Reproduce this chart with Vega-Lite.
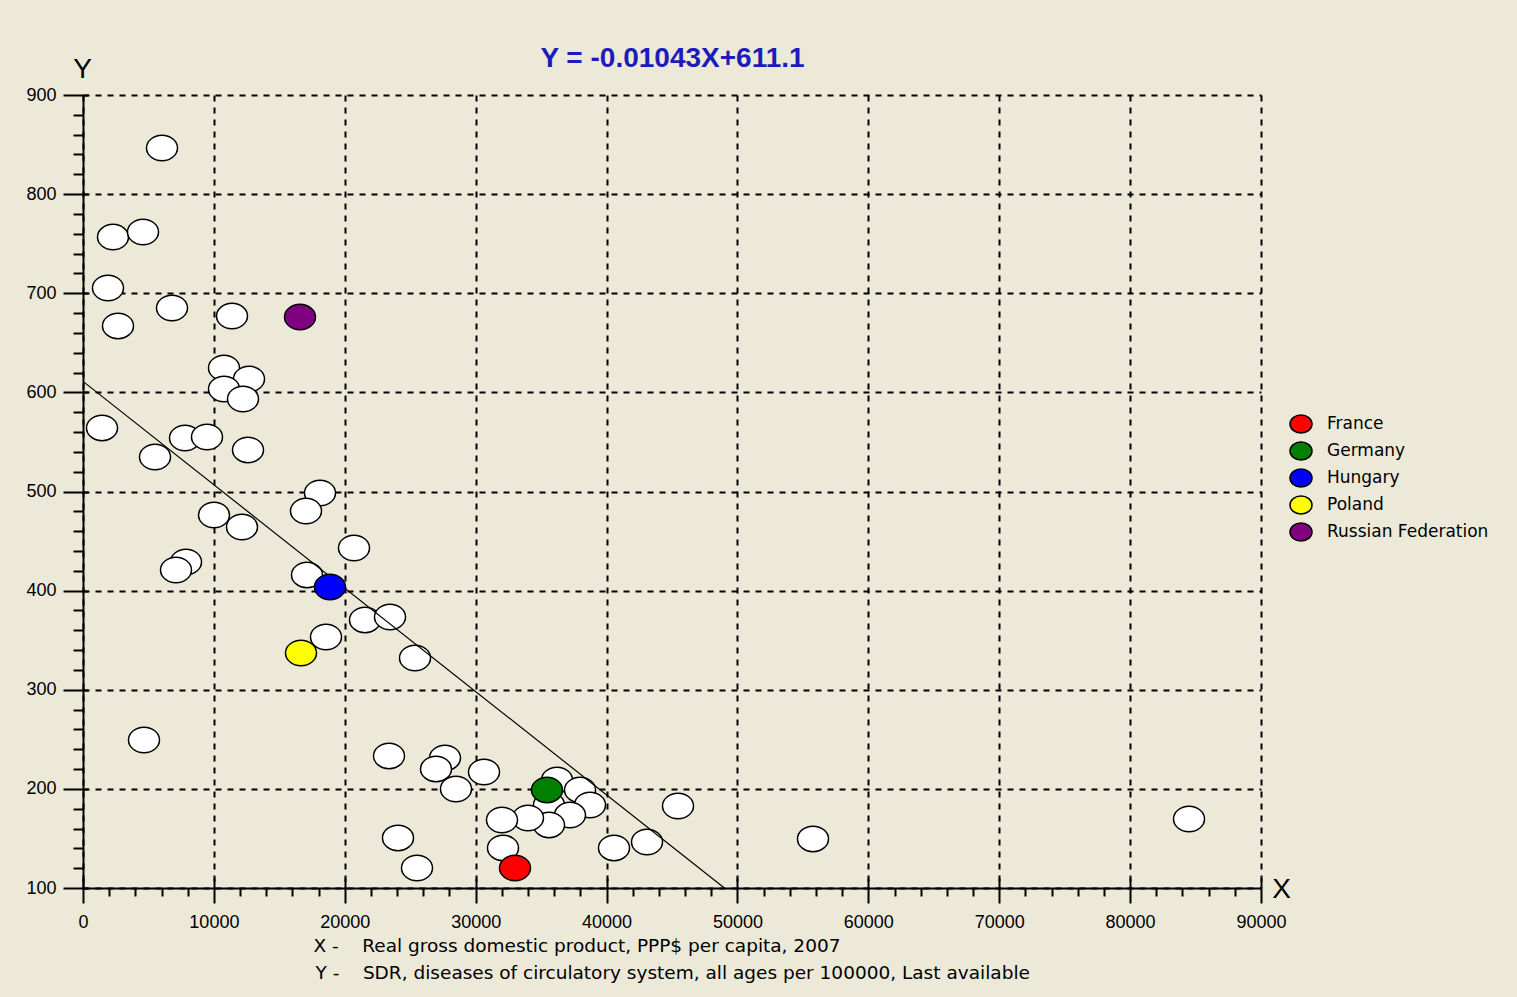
{
  "$schema": "https://vega.github.io/schema/vega-lite/v6.json",
  "width": 1178,
  "height": 793,
  "autosize": {"type": "none"},
  "padding": {"left": 83, "top": 95, "right": 256, "bottom": 109},
  "background": "#ECE9D8",
  "config": {
    "view": {"stroke": null},
    "axis": {
      "labelFont": "Liberation Sans",
      "labelFontSize": 18,
      "labelColor": "black",
      "tickColor": "black",
      "tickWidth": 2,
      "domainColor": "black",
      "domainWidth": 2,
      "gridColor": "black",
      "gridOpacity": 1,
      "gridWidth": 2,
      "gridDash": [6, 6],
      "labelFlush": false,
      "labelOverlap": false,
      "titleColor": "black",
      "titleFontWeight": "normal"
    }
  },
  "datasets": {
    "countries": [
      {"gdp": 6036, "sdr": 846.5, "country": null},
      {"gdp": 2292, "sdr": 756.7, "country": null},
      {"gdp": 4584, "sdr": 761.8, "country": null},
      {"gdp": 1910, "sdr": 705.3, "country": null},
      {"gdp": 2674, "sdr": 667.0, "country": null},
      {"gdp": 6800, "sdr": 685.1, "country": null},
      {"gdp": 11384, "sdr": 677.0, "country": null},
      {"gdp": 10773, "sdr": 624.6, "country": null},
      {"gdp": 12683, "sdr": 613.5, "country": null},
      {"gdp": 10773, "sdr": 603.4, "country": null},
      {"gdp": 12224, "sdr": 593.3, "country": null},
      {"gdp": 1452, "sdr": 564.1, "country": null},
      {"gdp": 5501, "sdr": 534.8, "country": null},
      {"gdp": 7793, "sdr": 554.0, "country": null},
      {"gdp": 9474, "sdr": 555.0, "country": null},
      {"gdp": 12606, "sdr": 541.9, "country": null},
      {"gdp": 18107, "sdr": 498.5, "country": null},
      {"gdp": 17037, "sdr": 480.3, "country": null},
      {"gdp": 10009, "sdr": 476.3, "country": null},
      {"gdp": 12148, "sdr": 464.2, "country": null},
      {"gdp": 20705, "sdr": 443.0, "country": null},
      {"gdp": 7869, "sdr": 428.9, "country": null},
      {"gdp": 7105, "sdr": 420.8, "country": null},
      {"gdp": 17114, "sdr": 415.8, "country": null},
      {"gdp": 21545, "sdr": 370.4, "country": null},
      {"gdp": 23455, "sdr": 373.4, "country": null},
      {"gdp": 18565, "sdr": 353.2, "country": null},
      {"gdp": 25365, "sdr": 332.0, "country": null},
      {"gdp": 4660, "sdr": 249.3, "country": null},
      {"gdp": 23379, "sdr": 233.2, "country": null},
      {"gdp": 27657, "sdr": 231.2, "country": null},
      {"gdp": 26970, "sdr": 220.1, "country": null},
      {"gdp": 30637, "sdr": 217.0, "country": null},
      {"gdp": 28497, "sdr": 199.9, "country": null},
      {"gdp": 36214, "sdr": 209.0, "country": null},
      {"gdp": 37971, "sdr": 198.9, "country": null},
      {"gdp": 38735, "sdr": 183.7, "country": null},
      {"gdp": 35603, "sdr": 183.7, "country": null},
      {"gdp": 37207, "sdr": 173.6, "country": null},
      {"gdp": 35603, "sdr": 163.6, "country": null},
      {"gdp": 33998, "sdr": 170.6, "country": null},
      {"gdp": 32012, "sdr": 168.6, "country": null},
      {"gdp": 32088, "sdr": 140.4, "country": null},
      {"gdp": 24066, "sdr": 150.5, "country": null},
      {"gdp": 25518, "sdr": 120.2, "country": null},
      {"gdp": 40569, "sdr": 140.4, "country": null},
      {"gdp": 43090, "sdr": 146.4, "country": null},
      {"gdp": 45459, "sdr": 182.7, "country": null},
      {"gdp": 55773, "sdr": 149.5, "country": null},
      {"gdp": 84500, "sdr": 169.6, "country": null},
      {"gdp": 33005, "sdr": 120.2, "country": "France"},
      {"gdp": 35450, "sdr": 198.9, "country": "Germany"},
      {"gdp": 18871, "sdr": 403.7, "country": "Hungary"},
      {"gdp": 16655, "sdr": 337.1, "country": "Poland"},
      {"gdp": 16579, "sdr": 676.0, "country": "Russian Federation"}
    ],
    "fit": [
      {"gdp": 0, "sdr": 611.1},
      {"gdp": 49003, "sdr": 100}
    ]
  },
  "layer": [
    {
      "data": {"name": "countries"},
      "transform": [{"filter": "datum.country == null"}],
      "mark": {
        "type": "point",
        "shape": "M -1 0 A 1 0.82 0 1 1 1 0 A 1 0.82 0 1 1 -1 0 Z",
        "size": 961,
        "filled": true,
        "fill": "white",
        "stroke": "black",
        "strokeWidth": 1.5,
        "opacity": 1
      },
      "encoding": {
        "x": {
          "field": "gdp",
          "type": "quantitative",
          "scale": {"domain": [0, 90000], "nice": false, "zero": false},
          "axis": {
            "orient": "bottom",
            "values": [0, 10000, 20000, 30000, 40000, 50000, 60000, 70000, 80000, 90000],
            "format": "d",
            "tickSize": 15,
            "labelPadding": 10,
            "grid": true,
            "title": "X",
            "titleFont": "Liberation Sans",
            "titleFontSize": 28,
            "titleX": 1198,
            "titleY": 9,
            "titleAlign": "center",
            "titleBaseline": "alphabetic"
          }
        },
        "y": {
          "field": "sdr",
          "type": "quantitative",
          "scale": {"domain": [100, 900], "nice": false, "zero": false},
          "axis": {
            "orient": "left",
            "values": [100, 200, 300, 400, 500, 600, 700, 800, 900],
            "format": "d",
            "tickSize": 20,
            "labelPadding": 7,
            "grid": true,
            "title": "Y",
            "titleFont": "Liberation Sans",
            "titleFontSize": 28,
            "titleAngle": 0,
            "titleX": -1,
            "titleY": -18,
            "titleAlign": "center",
            "titleBaseline": "alphabetic"
          }
        }
      }
    },
    {
      "data": {"name": "fit"},
      "mark": {"type": "line", "color": "black", "strokeWidth": 1.2},
      "encoding": {
        "x": {
          "field": "gdp",
          "type": "quantitative",
          "axis": {
            "orient": "bottom",
            "values": [2000, 4000, 6000, 8000, 12000, 14000, 16000, 18000, 22000, 24000, 26000, 28000, 32000, 34000, 36000, 38000, 42000, 44000, 46000, 48000, 52000, 54000, 56000, 58000, 62000, 64000, 66000, 68000, 72000, 74000, 76000, 78000, 82000, 84000, 86000, 88000],
            "tickSize": 8,
            "labels": false,
            "domain": false,
            "grid": false,
            "title": "X -\u00a0\u00a0\u00a0\u00a0Real gross domestic product, PPP$ per capita, 2007",
            "titleFont": "DejaVu Sans",
            "titleFontSize": 18.5,
            "titleX": 230,
            "titleY": 63,
            "titleAlign": "left",
            "titleBaseline": "alphabetic"
          }
        },
        "y": {
          "field": "sdr",
          "type": "quantitative",
          "axis": {
            "orient": "left",
            "values": [120, 140, 160, 180, 220, 240, 260, 280, 320, 340, 360, 380, 420, 440, 460, 480, 520, 540, 560, 580, 620, 640, 660, 680, 720, 740, 760, 780, 820, 840, 860, 880],
            "tickSize": 10,
            "labels": false,
            "domain": false,
            "grid": false,
            "title": "Y = -0.01043X+611.1",
            "titleFont": "Liberation Sans",
            "titleFontSize": 28,
            "titleFontWeight": "bold",
            "titleColor": "#1c1cb8",
            "titleAngle": 0,
            "titleX": 589,
            "titleY": -29,
            "titleAlign": "center",
            "titleBaseline": "alphabetic"
          }
        }
      }
    },
    {
      "data": {"name": "countries"},
      "transform": [{"filter": "datum.country != null"}],
      "mark": {
        "type": "point",
        "shape": "M -1 0 A 1 0.82 0 1 1 1 0 A 1 0.82 0 1 1 -1 0 Z",
        "size": 961,
        "filled": true,
        "stroke": "black",
        "strokeWidth": 1.5,
        "opacity": 1
      },
      "encoding": {
        "x": {
          "field": "gdp",
          "type": "quantitative",
          "axis": {
            "orient": "bottom",
            "values": [0, 10000, 20000, 30000, 40000, 50000, 60000, 70000, 80000, 90000],
            "tickSize": -10,
            "labels": false,
            "domain": false,
            "grid": false,
            "title": "Y -\u00a0\u00a0\u00a0\u00a0SDR, diseases of circulatory system, all ages per 100000, Last available",
            "titleFont": "DejaVu Sans",
            "titleFontSize": 18.5,
            "titleX": 232,
            "titleY": 90,
            "titleAlign": "left",
            "titleBaseline": "alphabetic"
          }
        },
        "y": {
          "field": "sdr",
          "type": "quantitative",
          "axis": {
            "orient": "left",
            "values": [100, 200, 300, 400, 500, 600, 700, 800, 900],
            "tickSize": -5,
            "labels": false,
            "domain": false,
            "grid": false,
            "title": null
          }
        },
        "fill": {
          "field": "country",
          "type": "nominal",
          "scale": {
            "domain": ["France", "Germany", "Hungary", "Poland", "Russian Federation"],
            "range": ["#ff0000", "#008000", "#0000ff", "#ffff00", "#800080"]
          },
          "legend": {
            "title": null,
            "orient": "none",
            "legendX": 1206,
            "legendY": 317,
            "padding": 0,
            "symbolType": "M -1 0 A 1 0.82 0 1 1 1 0 A 1 0.82 0 1 1 -1 0 Z",
            "symbolSize": 484,
            "symbolStrokeColor": "black",
            "symbolStrokeWidth": 1.5,
            "symbolOpacity": 1,
            "rowPadding": 1,
            "labelOffset": 14,
            "labelLimit": 0,
            "labelFont": "DejaVu Sans",
            "labelFontSize": 17,
            "labelColor": "black",
            "encode": {
              "symbols": {"update": {"stroke": {"value": "black"}, "strokeWidth": {"value": 1.5}}}
            }
          }
        }
      }
    }
  ],
  "resolve": {"axis": {"x": "independent", "y": "independent"}}
}
